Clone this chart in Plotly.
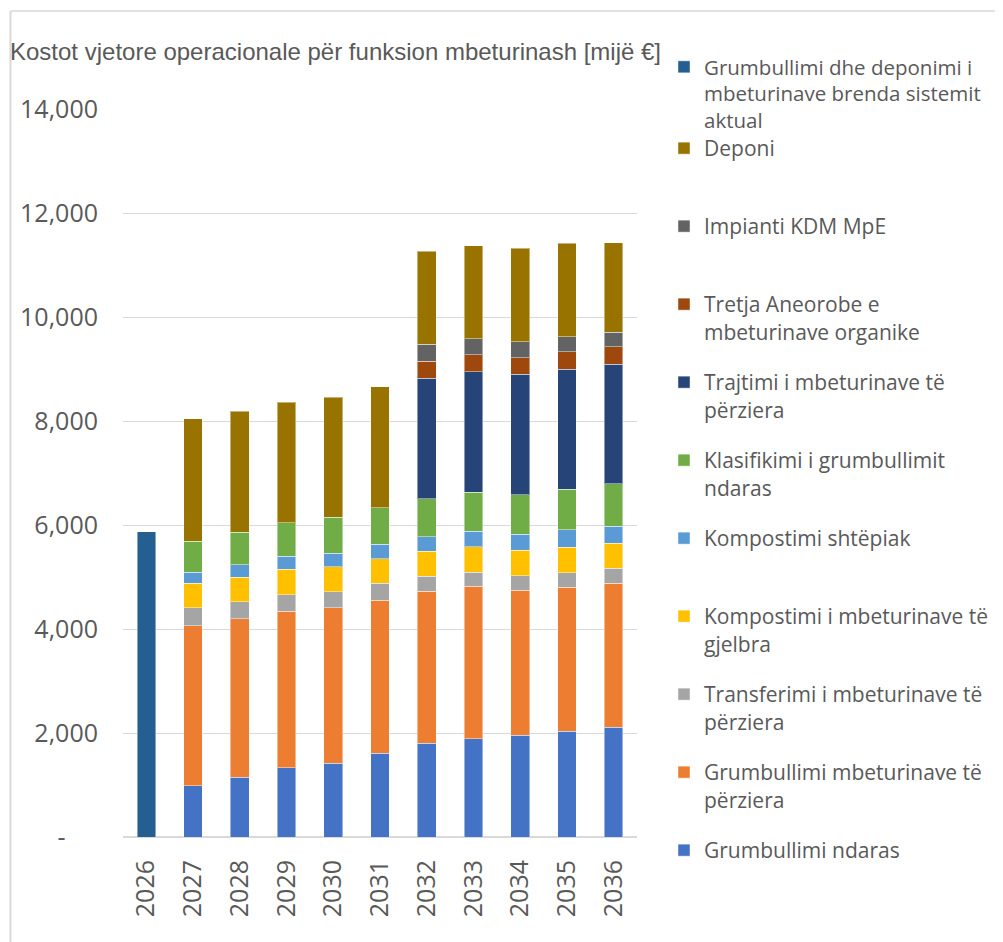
import plotly.graph_objects as go

years = ['2026', '2027', '2028', '2029', '2030', '2031',
         '2032', '2033', '2034', '2035', '2036']

# stacked from the bottom up
grumbullimi_ndaras = [None, 990, 1150, 1330, 1420, 1610, 1805, 1890, 1955, 2030, 2110]
grumbullimi_perziera = [None, 3075, 3050, 3010, 2990, 2940, 2920, 2935, 2795, 2770, 2770]
transferimi = [None, 345, 325, 320, 305, 330, 285, 270, 275, 285, 285]
kompostimi_gjelbra = [None, 470, 475, 485, 485, 475, 485, 485, 485, 485, 480]
kompostimi_shtepiak = [None, 210, 240, 250, 260, 275, 275, 300, 315, 335, 330]
klasifikimi = [None, 595, 620, 650, 685, 700, 735, 750, 755, 780, 815]
trajtimi = [None, None, None, None, None, None, 2320, 2315, 2315, 2315, 2305]
tretja_aneorobe = [None, None, None, None, None, None, 320, 330, 320, 330, 330]
impianti_kdm = [None, None, None, None, None, None, 330, 305, 305, 290, 285]
deponi = [None, 2360, 2325, 2315, 2310, 2325, 1790, 1795, 1800, 1795, 1720]
sistemi_aktual = [5870, None, None, None, None, None, None, None, None, None, None]

series = [
    ('Grumbullimi ndaras', grumbullimi_ndaras, '#4472c4'),
    ('Grumbullimi mbeturinave të<br>përziera', grumbullimi_perziera, '#ed7d31'),
    ('Transferimi i mbeturinave të<br>përziera', transferimi, '#a5a5a5'),
    ('Kompostimi i mbeturinave të<br>gjelbra', kompostimi_gjelbra, '#ffc000'),
    ('Kompostimi shtëpiak', kompostimi_shtepiak, '#5b9bd5'),
    ('Klasifikimi i grumbullimit<br>ndaras', klasifikimi, '#70ad47'),
    ('Trajtimi i mbeturinave të<br>përziera', trajtimi, '#264478'),
    ('Tretja Aneorobe e<br>mbeturinave organike', tretja_aneorobe, '#9e480e'),
    ('Impianti KDM MpE', impianti_kdm, '#636363'),
    ('Deponi', deponi, '#997300'),
]
current_name = 'Grumbullimi dhe deponimi i<br>mbeturinave brenda sistemit<br>aktual'
current_color = '#255e91'

y_ticks = [0, 2000, 4000, 6000, 8000, 10000, 12000, 14000]
y_labels = ['-' + '\u00a0' * 5] + [f'{v:,}' for v in y_ticks[1:]]

grey_text = '#595959'
grid = '#d9d9d9'

# the page body has an 8px margin, so the figure is drawn 8px smaller
W, H = 995, 934
legend_font = dict(family='Open Sans', size=21, color=grey_text)


def legend_name(name, lines=2):
    # every legend entry takes the same height, as in the original
    n = name.count('<br>') + 1
    return name + '<br>\u00a0' * (lines - n)


fig = go.Figure()
for i, (name, values, color) in enumerate(series):
    fig.add_trace(go.Bar(
        x=years, y=values,
        name=legend_name(name),
        legendgroup=f'g{i}',
        legendrank=len(series) - i,
        marker=dict(color=color, line=dict(color='rgba(255,255,255,0.45)', width=1)),
    ))
fig.add_trace(go.Bar(
    x=years, y=sistemi_aktual,
    name=current_name,
    legend='legend2',
    marker=dict(color=current_color, line=dict(color='rgba(255,255,255,0.45)', width=1)),
))

fig.update_layout(
    barmode='stack',
    bargap=0.6,
    width=W, height=H,
    margin=dict(l=113, r=366, t=101, b=105, pad=0),
    paper_bgcolor='white',
    plot_bgcolor='white',
    font=dict(family='Open Sans', color=grey_text),
    title=dict(
        text='Kostot vjetore operacionale për funksion mbeturinash [mijë €]',
        font=dict(family='Liberation Sans', size=24, color=grey_text),
        x=2 / W, xanchor='left', xref='container',
        y=1 - 44 / H, yanchor='middle', yref='container',
    ),
    legend=dict(
        traceorder='grouped',
        tracegroupgap=20.4,
        valign='top',
        font=legend_font,
        maxheight=900,
        xref='container', yref='container',
        x=656 / W, xanchor='left',
        y=1 - 120 / H, yanchor='top',
        bgcolor='rgba(0,0,0,0)',
    ),
    legend2=dict(
        valign='top',
        font=dict(family='Open Sans', size=20.5, color=grey_text),
        maxheight=300,
        xref='container', yref='container',
        x=656 / W, xanchor='left',
        y=1 - 39 / H, yanchor='top',
        bgcolor='rgba(0,0,0,0)',
    ),
    xaxis=dict(
        type='category',
        tickangle=-90,
        tickfont=dict(family='Open Sans', size=25, color=grey_text),
        showgrid=False,
        showline=False,
        ticks='',
        ticklabelstandoff=17,
    ),
    yaxis=dict(
        range=[0, 14000],
        tickvals=y_ticks,
        ticktext=y_labels,
        tickfont=dict(family='Open Sans', size=25, color=grey_text),
        showgrid=True, gridcolor=grid, gridwidth=1.3,
        zeroline=True, zerolinecolor=grid, zerolinewidth=1.5,
        showline=False,
        ticks='',
        ticklabelstandoff=24,
    ),
)

# chart frame (only left and top edges are visible in the picture)
fig.add_shape(type='line', xref='paper', yref='paper',
              x0=-113 / 516, x1=-113 / 516, y0=(829 - 3) / 728, y1=-0.2,
              line=dict(color=grid, width=2))
fig.add_shape(type='line', xref='paper', yref='paper',
              x0=-113 / 516, x1=1.8, y0=(829 - 3) / 728, y1=(829 - 3) / 728,
              line=dict(color=grid, width=1.5))

fig.write_html("out.html")
